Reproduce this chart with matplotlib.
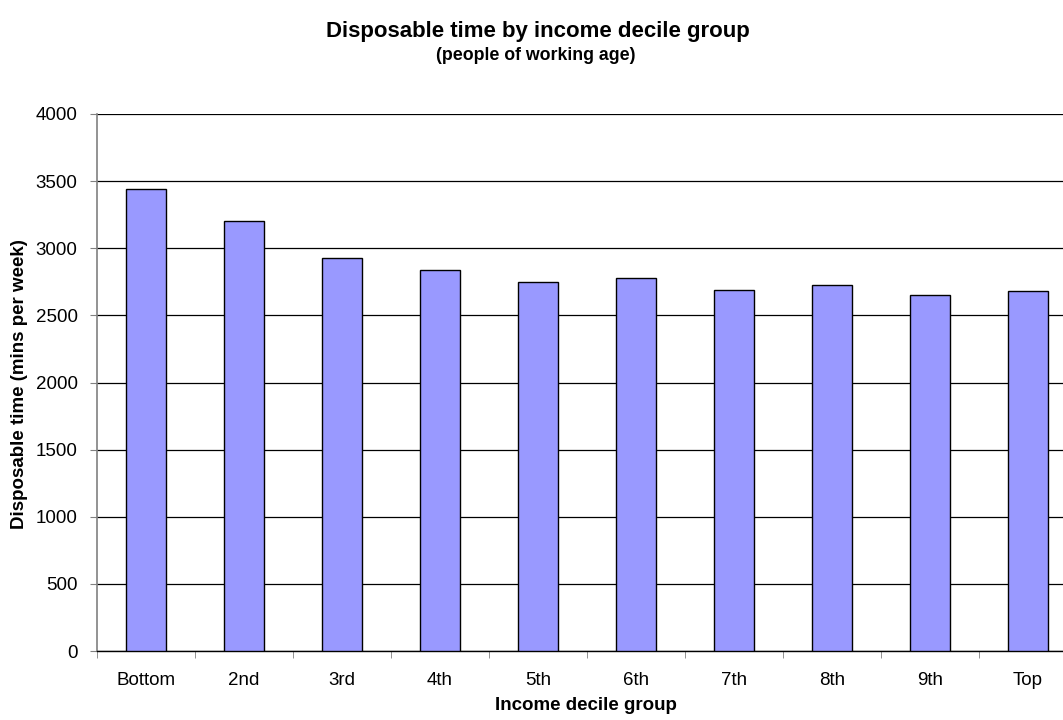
import numpy as np
import matplotlib
matplotlib.use("Agg")
import matplotlib.pyplot as plt

plt.rcParams['font.family'] = ['Liberation Sans', 'DejaVu Sans']

# Data
GROUPS = ["Bottom", "2nd", "3rd", "4th", "5th", "6th", "7th", "8th", "9th", "Top"]
MINUTES = [3440, 3205, 2930, 2835, 2750, 2780, 2690, 2725, 2652, 2680]
Y_TICKS = [0, 500, 1000, 1500, 2000, 2500, 3000, 3500, 4000]

BAR_COLOR = "#9999FF"


def main():
    fig = plt.figure(figsize=(10.63, 7.2), dpi=100)
    # plot area runs past the right edge of the picture, as in the original
    ax = fig.add_axes([97 / 1063., 1 - 651 / 720., 980 / 1063., 537 / 720.])

    x = np.arange(len(GROUPS))
    ax.bar(x, MINUTES, width=0.4, color=BAR_COLOR, edgecolor="black",
           linewidth=1.0, zorder=3)

    # Cosmetics
    ax.set_xlim(-0.5, len(GROUPS) - 0.5)
    ax.set_ylim(0, 4000)
    ax.set_yticks(Y_TICKS)
    ax.set_yticklabels([str(v) for v in Y_TICKS], fontsize=13.5)
    ax.yaxis.grid(True, color="#000000", linewidth=0.9, zorder=0)
    ax.set_axisbelow(True)

    ax.set_xticks(x)
    ax.set_xticklabels(GROUPS, fontsize=13.5)
    ax.set_xticks(np.arange(-0.5, len(GROUPS), 1.0), minor=True)
    ax.tick_params(axis="x", which="major", length=0, pad=15)
    ax.tick_params(axis="x", which="minor", length=5, color="#808080",
                   direction="out")
    ax.tick_params(axis="y", length=5, color="#808080", direction="out",
                   pad=9)

    for side in ("top", "right"):
        ax.spines[side].set_visible(False)
    ax.spines["left"].set_color("#808080")
    ax.spines["left"].set_linewidth(1.2)
    ax.spines["bottom"].set_color("black")
    ax.spines["bottom"].set_linewidth(1.0)

    fig.text(20 / 1063., 1 - 384 / 720., "Disposable time (mins per week)",
             fontsize=13.5, fontweight="bold", rotation=90,
             ha="center", va="center")
    fig.text(586 / 1063., 1 - 705 / 720., "Income decile group",
             fontsize=13.5, fontweight="bold", ha="center", va="center")

    fig.text(538 / 1063., 1 - 32 / 720., "Disposable time by income decile group",
             fontsize=16, fontweight="bold", ha="center", va="center")
    fig.text(536 / 1063., 1 - 55 / 720., "(people of working age)",
             fontsize=12.8, fontweight="bold", ha="center", va="center")

    fig.savefig("out.png", dpi=100)


if __name__ == '__main__':
    main()
